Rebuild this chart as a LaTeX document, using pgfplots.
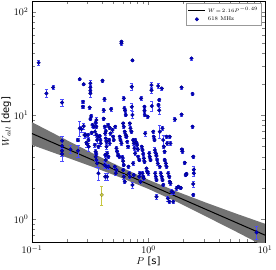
\documentclass[border=0pt]{standalone}
\usepackage{fontspec}
\setsansfont{DejaVu Sans}
\usepackage{pgfplots}
\usepackage{pgfplotstable}
\pgfplotsset{compat=1.18}
\definecolor{ptfill}{rgb}{0.0,0.0,0.78}
\definecolor{ptedge}{rgb}{0.0,0.0,0.45}
\definecolor{errblue}{rgb}{0.30,0.30,1.0}
\definecolor{yel}{rgb}{0.78,0.78,0.25}
\definecolor{yeledge}{rgb}{0.45,0.45,0.1}
\pgfplotstableread{
P W e
0.114 32.2 1.9
0.133 16.3 1.45
0.152 18.6 0.8
0.181 13.3 1.0
0.181 5.70 0.63
0.181 5.06 0.75
0.181 4.56 0.5
0.181 4.24 0.63
0.214 4.70 0.42
0.248 5.78 0.2
0.248 4.56 0.6
0.257 22.4 0.66
0.257 7.50 1.2
0.266 7.38 0.55
0.274 13.5 0.5
0.274 12.1 0.45
0.278 20.0 0.6
0.278 7.89 0.58
0.282 6.46 0.38
0.289 6.46 0.24
0.293 5.45 0.2
0.297 5.29 0.39
0.303 6.46 0.24
0.305 5.78 0.21
0.307 4.99 0.44
0.317 20.4 1.2
0.317 18.6 1.1
0.317 17.3 0.64
0.317 16.3 1.2
0.313 11.9 0.44
0.322 9.86 0.36
0.317 9.22 0.34
0.330 8.07 0.3
0.339 7.78 0.29
0.348 6.96 0.5
0.326 6.80 0.25
0.357 7.78 0.29
0.357 9.02 0.53
0.352 8.50 0.31
0.357 6.46 0.24
0.369 6.23 0.23
0.362 5.78 0.34
0.372 4.99 0.18
0.346 5.17 0.19
0.352 4.47 0.26
0.357 4.24 0.16
0.352 3.99 0.3
0.357 3.71 0.14
0.362 3.44 0.25
0.372 2.76 0.41
0.382 6.32 0.23
0.387 5.78 0.21
0.389 5.37 0.32
0.403 21.6 0.64
0.413 11.2 0.5
0.413 9.29 0.41
0.419 14.3 0.53
0.422 7.78 0.29
0.430 7.06 0.26
0.425 6.70 0.25
0.430 6.00 0.22
0.436 5.57 0.21
0.436 4.99 0.3
0.425 4.14 0.15
0.430 3.71 0.22
0.419 3.32 0.25
0.436 3.20 0.12
0.425 2.56 0.19
0.441 2.56 0.19
0.441 4.30 0.16
0.453 3.99 0.15
0.453 3.20 0.19
0.450 8.07 0.3
0.465 7.60 0.28
0.471 6.70 0.25
0.459 5.78 0.21
0.465 5.37 0.2
0.478 11.5 0.43
0.491 7.22 0.27
0.497 6.23 0.23
0.504 5.78 0.21
0.517 7.78 0.29
0.531 4.81 0.18
0.538 4.47 0.17
0.548 4.14 0.15
0.560 3.99 0.15
0.514 3.20 0.12
0.531 2.97 0.11
0.524 2.76 0.1
0.567 6.23 0.23
0.575 5.78 0.21
0.586 5.37 0.2
0.586 51.4 1.9
0.586 49.5 1.8
0.598 3.94 0.15
0.606 3.62 0.21
0.614 3.32 0.12
0.606 2.97 0.11
0.614 2.56 0.15
0.626 2.29 0.085
0.606 8.37 0.31
0.614 7.78 0.29
0.626 6.96 0.26
0.638 6.46 0.24
0.614 14.6 0.54
0.622 11.7 0.43
0.630 11.1 0.41
0.638 10.1 0.37
0.647 6.23 0.23
0.656 5.57 0.21
0.668 4.99 0.18
0.673 3.20 0.12
0.682 2.76 0.1
0.692 2.56 0.095
0.692 8.37 0.31
0.700 7.50 0.28
0.714 6.96 0.26
0.719 18.9 1.4
0.728 34.0 1.0
0.719 12.1 0.9
0.728 10.1 0.75
0.738 5.78 0.21
0.748 5.37 0.2
0.758 4.81 0.18
0.768 4.30 0.16
0.738 3.44 0.13
0.748 2.66 0.1
0.728 2.13 0.13
0.768 5.78 0.21
0.788 5.45 0.2
0.799 5.17 0.19
0.810 4.70 0.17
0.815 3.99 0.15
0.832 3.71 0.14
0.843 2.76 0.1
0.832 2.56 0.095
0.854 2.29 0.085
0.865 14.6 0.54
0.877 4.99 0.18
0.888 4.63 0.17
0.900 4.24 0.16
0.912 3.85 0.14
0.924 3.57 0.13
0.888 2.76 0.1
0.900 2.56 0.095
0.912 2.47 0.09
0.924 12.1 0.45
0.924 11.1 0.41
0.930 10.1 0.37
0.936 6.70 0.4
0.962 3.08 0.11
0.975 2.86 0.11
0.994 2.76 0.1
0.987 9.71 0.36
1.014 4.30 0.16
1.026 3.99 0.15
1.040 3.71 0.14
1.061 19.6 1.45
1.061 17.5 1.3
1.068 12.3 1.37
1.097 6.96 0.26
1.111 6.23 0.23
1.126 5.78 0.21
1.133 4.63 0.27
1.156 4.30 0.16
1.172 4.05 0.15
1.186 3.71 0.14
1.202 3.44 0.13
1.141 2.76 0.1
1.156 2.56 0.095
1.172 2.38 0.09
1.172 1.64 0.1
1.210 19.2 1.1
1.236 14.1 0.52
1.218 12.6 0.47
1.236 11.2 0.83
1.250 6.96 1.0
1.302 18.2 0.67
1.318 7.50 0.28
1.337 5.78 0.64
1.355 4.99 0.18
1.374 4.47 0.17
1.250 3.20 0.12
1.276 2.76 0.1
1.302 2.56 0.095
1.318 2.38 0.09
1.337 2.13 0.08
1.380 3.71 0.14
1.409 3.44 0.13
1.429 3.20 0.12
1.429 6.23 0.23
1.445 5.37 0.2
1.476 2.76 0.1
1.507 2.56 0.095
1.524 2.29 0.085
1.545 2.21 0.08
1.524 6.23 0.23
1.545 5.37 0.2
1.466 1.58 0.09
1.507 1.47 0.055
1.578 1.84 0.11
1.629 1.80 0.067
1.629 1.47 0.055
1.683 9.15 0.34
1.742 1.98 0.073
1.799 2.05 0.076
1.897 2.00 0.074
1.923 18.6 0.69
1.923 10.2 0.38
1.936 4.70 0.17
1.959 4.47 0.17
2.05 3.49 0.13
2.12 2.72 0.1
2.09 2.66 0.1
2.34 35.5 1.3
2.39 16.1 0.6
2.39 7.78 0.29
2.42 3.99 0.15
2.45 2.76 0.2
2.45 3.00 0.2
2.42 2.18 0.16
2.42 1.71 0.063
8.47 0.743 0.1
}\obsdata
\pgfplotstableread{
P W e
0.397 1.71 0.35
}\yeldata
\begin{document}
\begin{tikzpicture}
\path[use as bounding box] (-32pt,-27pt) rectangle (244pt,242pt);
\begin{axis}[
  at={(0,0)}, anchor=south west,
  scale only axis, width=233pt, height=241pt,
  xmode=log, ymode=log,
  xmin=0.1, xmax=10, ymin=0.6, ymax=127,
  tick align=inside,
  xlabel={$P$ \textsf{[s]}},
  ylabel={$W_{all}$ \textsf{[deg]}},
  xlabel style={yshift=4pt},
  ylabel style={yshift=-4pt},
  legend style={at={(0.985,0.99)}, anchor=north east,
    font=\fontsize{5.5}{6}\selectfont, draw=gray!80, line width=0.8pt,
    inner sep=1pt, row sep=-1pt},
  legend cell align=left,
]
\addplot[fill=gray!90!black, draw=none, forget plot] coordinates {
(0.1,8.59) (0.1778,6.15) (0.3162,4.43) (0.5623,3.22) (1,2.39) (1.778,1.83) (3.162,1.43) (5.623,1.13) (10,0.90)
(10,0.542) (5.623,0.757) (3.162,1.05) (1.778,1.45) (1,1.95) (0.5623,2.54) (0.3162,3.25) (0.1778,4.11) (0.1,5.18)
} -- cycle;
\addplot[black, line width=1pt] coordinates {(0.1,6.68) (10,0.699)};
\addlegendentry{$W\!=\!2.16P^{-0.49}$}
\addplot[only marks, mark=*, mark size=1.85pt, mark options={fill=ptfill, draw=ptedge, line width=0.3pt},
  error bars/.cd, y dir=both, y explicit,
  error bar style={color=errblue, line width=0.6pt},
  error mark options={rotate=90, mark size=1.6pt, color=errblue, line width=0.5pt}]
  table[x=P, y=W, y error=e] {\obsdata};
\addlegendentry{618 MHz}
\addplot[only marks, mark=*, mark size=1.85pt, mark options={fill=yel, draw=yeledge, line width=0.3pt}, forget plot,
  error bars/.cd, y dir=both, y explicit,
  error bar style={color=yel, line width=0.6pt},
  error mark options={rotate=90, mark size=1.6pt, color=yel, line width=0.5pt}]
  table[x=P, y=W, y error=e] {\yeldata};
\end{axis}
\end{tikzpicture}
\end{document}
